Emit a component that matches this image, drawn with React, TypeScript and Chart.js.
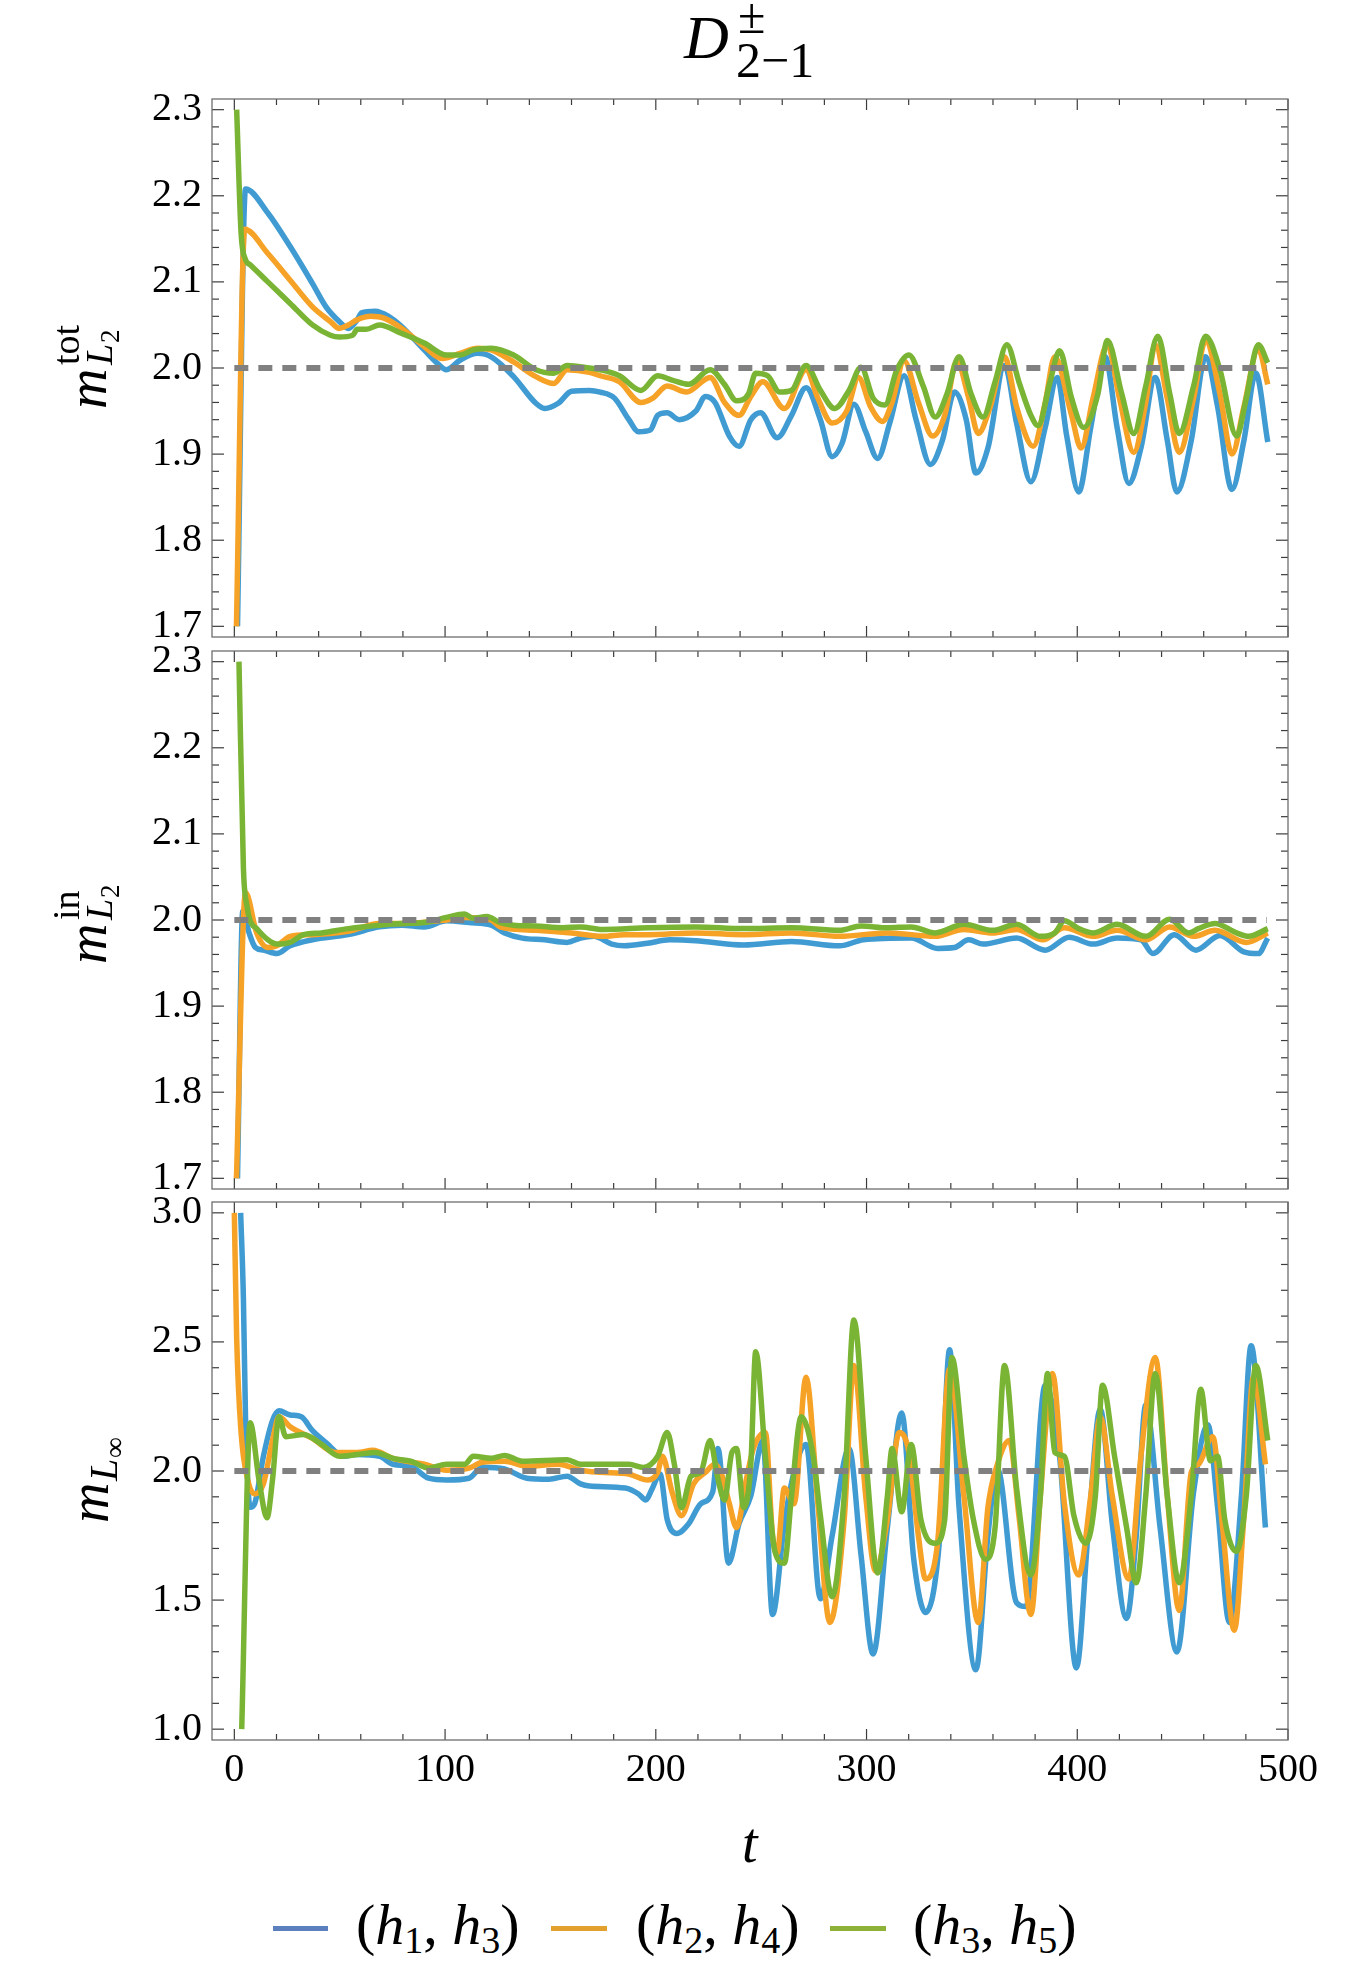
import React, { useEffect, useRef } from 'react';
import { Chart, registerables } from 'chart.js';

Chart.register(...registerables);

const SERIF = "'Liberation Serif', 'DejaVu Serif', 'Noto Serif', serif";

// ---------- Panel 1: m^tot_{L2} ----------
const totBlue = [[1.5,1.70],[5.3,2.208],[15.9,2.180],[26.5,2.141],[37.1,2.098],[43.5,2.071],[49.8,2.054],[54.1,2.046],[58.3,2.056],[60.4,2.064],[66.8,2.066],[73.2,2.060],[79.5,2.048],[90.1,2.021],[96.5,2.005],[100.7,1.998],[107.1,2.009],[115.5,2.017],[121.9,2.013],[132.5,1.990],[143.1,1.959],[147.3,1.953],[153.7,1.959],[160.0,1.973],[168.5,1.974],[173.6,1.972],[180.4,1.965],[187.2,1.940],[191.8,1.926],[197.4,1.928],[200.9,1.945],[205.4,1.948],[211.1,1.940],[219.0,1.950],[223.6,1.967],[228.1,1.960],[234.9,1.921],[239.5,1.909],[245.1,1.940],[249.7,1.948],[257.6,1.919],[264.4,1.945],[271.3,1.977],[278.1,1.940],[283.7,1.897],[288.3,1.912],[294.0,1.958],[299.6,1.926],[305.3,1.895],[311.0,1.936],[317.8,1.991],[323.5,1.940],[330.3,1.888],[336.0,1.916],[341.7,1.972],[347.3,1.940],[351.9,1.878],[357.6,1.907],[365.5,2.003],[371.2,1.936],[378.0,1.868],[384.8,1.931],[390.5,1.989],[395.0,1.921],[400.7,1.856],[406.4,1.931],[413.2,2.013],[418.9,1.931],[424.5,1.866],[430.2,1.907],[437.0,1.989],[442.7,1.916],[447.3,1.856],[454.1,1.916],[460.9,2.013],[466.6,1.955],[473.4,1.859],[479.1,1.916],[484.7,1.994],[490.4,1.914]];
const totOrange = [[1.0,1.70],[4.9,2.161],[15.9,2.133],[26.5,2.102],[37.1,2.071],[45.6,2.054],[49.8,2.046],[54.1,2.050],[58.3,2.056],[64.7,2.060],[71.0,2.058],[79.5,2.046],[90.1,2.025],[98.6,2.011],[107.1,2.017],[115.5,2.023],[121.9,2.021],[132.5,2.007],[143.1,1.990],[151.6,1.982],[157.9,1.998],[168.5,1.995],[173.6,1.991],[182.7,1.984],[192.9,1.960],[198.6,1.965],[205.4,1.979],[214.5,1.972],[225.8,1.989],[232.6,1.960],[239.5,1.945],[245.1,1.967],[250.8,1.984],[261.0,1.953],[271.3,1.998],[276.9,1.965],[283.7,1.936],[290.6,1.950],[296.2,1.989],[301.9,1.955],[307.6,1.938],[312.1,1.960],[317.8,2.008],[324.6,1.960],[331.4,1.921],[337.1,1.945],[342.8,2.008],[348.5,1.965],[353.0,1.924],[358.7,1.955],[365.5,2.013],[371.2,1.955],[379.1,1.909],[384.8,1.960],[389.3,2.013],[397.3,1.945],[401.8,1.907],[407.5,1.965],[414.3,2.027],[420.0,1.965],[426.8,1.902],[432.5,1.960],[437.0,2.027],[442.7,1.965],[448.4,1.902],[455.2,1.965],[460.9,2.032],[467.7,1.970],[473.4,1.900],[479.1,1.955],[485.9,2.022],[490.4,1.981]];
const totGreen = [[1.1,2.300],[3.2,2.157],[5.3,2.126],[7.5,2.120],[15.9,2.100],[26.5,2.075],[37.1,2.050],[45.6,2.038],[49.8,2.036],[56.2,2.038],[58.3,2.045],[62.6,2.045],[68.9,2.050],[79.5,2.040],[90.1,2.029],[100.7,2.015],[107.1,2.015],[113.4,2.021],[121.9,2.023],[132.5,2.015],[143.1,1.998],[151.6,1.994],[157.9,2.003],[168.5,2.000],[173.6,1.998],[182.7,1.991],[192.9,1.974],[200.9,1.991],[207.7,1.986],[215.6,1.981],[225.8,1.998],[232.6,1.981],[238.3,1.962],[244.0,1.970],[247.4,1.994],[253.1,1.991],[258.8,1.972],[264.4,1.974],[271.3,2.003],[278.1,1.974],[284.9,1.953],[291.7,1.974],[297.4,2.001],[303.1,1.965],[308.7,1.957],[314.4,1.998],[320.1,2.015],[326.9,1.979],[332.6,1.943],[338.2,1.970],[343.9,2.013],[349.6,1.970],[355.3,1.943],[361.0,1.984],[366.6,2.027],[372.3,1.984],[378.0,1.945],[381.4,1.933],[387.1,1.984],[391.6,2.020],[397.3,1.965],[403.0,1.931],[409.8,1.970],[414.3,2.032],[421.1,1.970],[426.8,1.924],[432.5,1.979],[438.2,2.037],[443.9,1.970],[448.4,1.924],[455.2,1.979],[460.9,2.037],[467.7,1.998],[475.6,1.921],[480.2,1.965],[485.9,2.027],[490.4,2.006]];

// ---------- Panel 2: m^in_{L2} ----------
const inBlue = [[1.5,1.70],[4.0,2.010],[7.0,1.985],[10.0,1.968],[13.8,1.965],[20.2,1.961],[26.5,1.970],[37.1,1.977],[54.1,1.983],[68.9,1.992],[79.5,1.994],[90.1,1.992],[100.7,1.999],[111.3,1.997],[121.9,1.994],[128.2,1.985],[136.7,1.979],[147.3,1.977],[157.9,1.974],[164.3,1.979],[170.6,1.981],[179.1,1.972],[185.0,1.970],[196.1,1.973],[206.6,1.977],[219.0,1.976],[241.7,1.971],[264.4,1.975],[287.2,1.970],[298.5,1.977],[321.2,1.979],[333.7,1.967],[341.7,1.968],[348.5,1.977],[355.3,1.972],[371.2,1.979],[384.8,1.965],[396.2,1.980],[407.5,1.972],[418.9,1.979],[430.2,1.977],[435.9,1.961],[446.1,1.983],[456.3,1.965],[467.7,1.982],[479.1,1.963],[485.9,1.961],[490.4,1.979]];
const inOrange = [[1.0,1.70],[5.3,2.032],[10.6,1.985],[15.9,1.968],[20.2,1.970],[26.5,1.981],[37.1,1.983],[54.1,1.987],[68.9,1.996],[79.5,1.996],[100.7,2.000],[109.2,2.003],[121.9,2.000],[126.1,1.992],[143.1,1.988],[160.0,1.985],[174.9,1.981],[185.0,1.983],[196.3,1.983],[219.0,1.985],[241.7,1.983],[264.4,1.985],[287.2,1.981],[309.9,1.985],[332.6,1.981],[346.2,1.989],[359.8,1.985],[371.2,1.989],[383.7,1.977],[393.9,1.991],[407.5,1.981],[418.9,1.988],[432.5,1.977],[443.9,1.992],[455.2,1.981],[465.4,1.988],[480.2,1.974],[490.4,1.985]];
const inGreen = [[2.2,2.300],[4.3,2.061],[6.0,2.016],[7.5,1.999],[10.6,1.990],[15.9,1.977],[20.2,1.972],[26.5,1.974],[32.9,1.983],[41.4,1.985],[54.1,1.990],[68.9,1.994],[79.5,1.996],[90.1,1.997],[100.7,2.003],[109.2,2.007],[113.4,2.002],[119.8,2.004],[126.1,1.997],[132.5,1.994],[143.1,1.993],[155.8,1.991],[164.3,1.992],[174.9,1.989],[196.3,1.991],[219.0,1.992],[241.7,1.990],[264.4,1.991],[287.2,1.988],[297.4,1.993],[309.9,1.991],[321.2,1.992],[332.6,1.985],[346.2,1.995],[359.8,1.988],[371.2,1.995],[382.5,1.981],[389.3,1.985],[393.9,1.999],[400.7,1.990],[407.5,1.985],[418.9,1.995],[432.5,1.981],[443.9,2.001],[452.9,1.985],[457.5,1.990],[465.4,1.996],[475.6,1.985],[481.3,1.981],[490.4,1.990]];

// ---------- Panel 3: m_{L_inf} ----------
const linfBlue = [[3.0,3.000],[4.3,2.670],[5.3,2.210],[7.5,1.860],[9.6,1.873],[13.8,2.057],[18.1,2.195],[21.2,2.233],[26.5,2.217],[31.8,2.210],[37.1,2.156],[43.5,2.110],[52.0,2.057],[58.3,2.064],[68.9,2.057],[75.3,2.026],[83.7,2.018],[92.2,1.972],[100.7,1.965],[111.3,1.972],[117.7,2.015],[128.2,2.008],[138.8,1.972],[149.4,1.968],[157.9,1.980],[164.3,1.950],[168.5,1.942],[185.5,1.934],[191.8,1.911],[195.2,1.888],[198.2,1.930],[202.0,1.988],[205.4,1.812],[209.9,1.758],[215.6,1.796],[221.3,1.873],[227.0,1.919],[229.5,2.087],[234.5,1.643],[239.5,1.796],[245.1,1.904],[250.8,2.118],[255.4,1.444],[261.0,1.796],[265.6,1.995],[271.3,2.103],[278.1,1.505],[283.7,1.750],[291.7,2.087],[297.4,1.674],[303.1,1.291],[309.9,1.781],[316.7,2.225],[322.4,1.658],[328.0,1.452],[334.8,1.750],[339.4,2.470],[343.9,1.858],[351.9,1.230],[357.6,1.750],[362.1,2.009],[371.2,1.490],[375.7,1.475],[384.8,2.332],[391.6,2.057],[399.6,1.237],[405.2,1.766],[410.9,2.240],[416.6,1.796],[423.4,1.429],[428.0,1.750],[432.5,2.256],[439.3,1.781],[447.3,1.299],[455.2,1.919],[462.0,2.179],[466.6,1.858],[472.2,1.413],[477.9,1.904],[482.5,2.485],[489.3,1.781]];
const linfOrange = [[0.0,3.000],[1.1,2.516],[3.2,2.150],[6.4,1.965],[9.6,1.911],[13.8,1.950],[18.1,2.118],[21.2,2.210],[26.5,2.171],[37.1,2.126],[47.7,2.072],[58.3,2.072],[65.7,2.080],[75.3,2.049],[90.1,2.026],[100.7,2.003],[111.3,2.011],[117.7,2.034],[128.2,2.038],[138.8,2.018],[153.7,2.026],[164.3,2.003],[173.6,1.995],[187.2,1.988],[196.3,1.965],[200.9,1.995],[203.1,2.057],[207.7,1.919],[212.2,1.827],[217.9,1.950],[223.6,1.995],[228.1,2.026],[231.5,1.980],[234.9,1.873],[238.3,1.781],[242.9,1.965],[246.3,2.087],[252.0,2.149],[255.4,1.750],[257.6,1.681],[261.0,1.934],[265.6,1.873],[271.3,2.363],[276.9,1.873],[282.6,1.413],[289.4,1.812],[294.0,2.409],[299.6,1.904],[304.2,1.613],[309.9,1.812],[315.5,2.149],[320.1,2.072],[324.6,1.750],[328.0,1.582],[333.7,1.720],[339.4,2.394],[346.2,1.904],[353.0,1.413],[357.6,1.858],[362.1,2.026],[367.8,2.118],[372.3,1.827],[378.0,1.444],[382.5,1.904],[388.2,2.378],[393.9,1.873],[400.7,1.597],[406.4,1.904],[410.9,2.210],[416.6,1.904],[424.5,1.582],[430.2,2.057],[437.0,2.440],[442.7,1.904],[448.4,1.460],[454.1,1.995],[457.5,2.026],[464.3,2.133],[468.8,1.796],[474.5,1.383],[479.1,1.827],[483.6,2.363],[489.3,2.026]];
const linfGreen = [[3.5,1.000],[7.5,2.187],[11.7,1.965],[15.5,1.819],[18.1,1.965],[21.2,2.210],[24.4,2.133],[32.9,2.141],[41.4,2.103],[49.8,2.057],[58.3,2.064],[66.8,2.072],[75.3,2.049],[83.7,2.038],[92.2,2.011],[100.7,2.026],[109.2,2.026],[113.4,2.057],[121.9,2.049],[128.2,2.060],[136.7,2.038],[157.9,2.044],[164.3,2.026],[187.2,2.026],[194.0,2.014],[200.9,2.057],[205.4,2.149],[208.8,2.026],[212.2,1.858],[216.7,1.980],[221.3,1.995],[225.8,2.118],[229.2,1.980],[232.6,1.888],[236.1,2.072],[238.3,2.087],[241.7,1.858],[245.1,2.026],[247.4,2.462],[252.0,2.057],[256.5,1.689],[261.0,1.643],[264.4,1.904],[269.0,2.210],[274.7,2.057],[278.1,1.827],[283.7,1.513],[289.4,1.904],[294.0,2.585],[299.6,2.057],[305.3,1.605],[309.9,1.904],[312.1,2.087],[316.7,1.842],[321.2,2.103],[325.8,1.812],[332.6,1.720],[337.1,1.812],[340.5,2.440],[346.2,2.057],[350.7,1.812],[356.4,1.658],[361.0,1.781],[365.5,2.409],[371.2,1.934],[378.0,1.597],[382.5,1.904],[385.9,2.378],[389.3,2.072],[393.9,2.057],[398.4,1.827],[404.1,1.720],[408.6,1.904],[412.0,2.332],[417.7,2.057],[423.4,1.781],[428.0,1.567],[432.5,1.904],[437.0,2.378],[442.7,1.904],[448.4,1.567],[454.1,1.904],[458.6,2.317],[463.2,2.040],[466.6,2.057],[470.0,1.812],[475.6,1.689],[480.2,1.904],[484.7,2.409],[490.4,2.118]];

// reference line m = 2
const refLine = [[0, 2], [490, 2]];

// ticks
const xMajorTicks = [0, 100, 200, 300, 400, 500];
const xMinorTicks = [0, 20, 40, 60, 80, 100, 120, 140, 160, 180, 200, 220, 240, 260, 280, 300, 320, 340, 360, 380, 400, 420, 440, 460, 480, 500];
const l2MajorTicks = [1.7, 1.8, 1.9, 2.0, 2.1, 2.2, 2.3];
const l2MinorTicks = [1.70, 1.72, 1.74, 1.76, 1.78, 1.80, 1.82, 1.84, 1.86, 1.88, 1.90, 1.92, 1.94, 1.96, 1.98, 2.00, 2.02, 2.04, 2.06, 2.08, 2.10, 2.12, 2.14, 2.16, 2.18, 2.20, 2.22, 2.24, 2.26, 2.28, 2.30];
const linfMajorTicks = [1.0, 1.5, 2.0, 2.5, 3.0];
const linfMinorTicks = [1.0, 1.1, 1.2, 1.3, 1.4, 1.5, 1.6, 1.7, 1.8, 1.9, 2.0, 2.1, 2.2, 2.3, 2.4, 2.5, 2.6, 2.7, 2.8, 2.9, 3.0];

const COLORS = { blue: '#3f9bd2', orange: '#f5a226', green: '#7ab434', ref: '#808080' };
const LEGEND_COLORS = ['#5b80bd', '#e2a02c', '#8db237'];

type Pts = number[][];
type PanelProps = {
  top: number; height: number; padTop: number; padBottom: number;
  xAxisHeight: number; showX: boolean;
  yMin: number; yMax: number; yMajor: number[]; yMinor: number[];
  blue: Pts; orange: Pts; green: Pts;
};

function Panel(p: PanelProps) {
  const ref = useRef<HTMLCanvasElement>(null);
  useEffect(() => {
    const canvas = ref.current;
    if (!canvas) return;
    const toPts = (arr: Pts) => arr.map(([x, y]) => ({ x, y }));
    const mkLine = (arr: Pts, color: string, order: number, extra: any = {}) => ({
      data: toPts(arr), borderColor: color, backgroundColor: color, borderWidth: 5.5,
      pointRadius: 0, fill: false, order, cubicInterpolationMode: 'monotone',
      borderJoinStyle: 'round', borderCapStyle: 'butt', ...extra,
    });
    const near = (a: number[], v: number) => a.some((m) => Math.abs(m - v) < 1e-9);
    const framePlugin = {
      id: 'frameTicks',
      beforeDatasetsDraw(chart: any) {
        const { ctx, chartArea: a, scales } = chart;
        const xs = scales.x, ys = scales.y;
        ctx.save();
        ctx.strokeStyle = '#3c3c3c';
        ctx.lineWidth = 1.2;
        const seg = (x1: number, y1: number, x2: number, y2: number) => {
          ctx.beginPath(); ctx.moveTo(x1, y1); ctx.lineTo(x2, y2); ctx.stroke();
        };
        for (const v of xMinorTicks) {
          const px = xs.getPixelForValue(v);
          const len = near(xMajorTicks, v) ? 11 : 6;
          seg(px, a.bottom, px, a.bottom - len);
          seg(px, a.top, px, a.top + len);
        }
        for (const v of p.yMinor) {
          const py = ys.getPixelForValue(v);
          const len = near(p.yMajor, v) ? 12 : 7;
          seg(a.left, py, a.left + len, py);
          seg(a.right, py, a.right - len, py);
        }
        ctx.strokeStyle = '#6e6e6e';
        ctx.lineWidth = 1.3;
        ctx.strokeRect(a.left, a.top, a.right - a.left, a.bottom - a.top);
        ctx.restore();
      },
    };
    const font = { family: SERIF, size: 40 };
    const chart = new Chart(canvas, {
      type: 'line',
      data: {
        datasets: [
          mkLine(refLine, COLORS.ref, 0, { borderDash: [14, 10], borderWidth: 6, cubicInterpolationMode: 'default' }),
          mkLine(p.green, COLORS.green, 1),
          mkLine(p.orange, COLORS.orange, 2),
          mkLine(p.blue, COLORS.blue, 3),
        ],
      },
      options: {
        animation: false,
        responsive: false,
        maintainAspectRatio: false,
        events: [],
        layout: { padding: { left: 0, right: 62, top: p.padTop, bottom: p.padBottom } },
        plugins: { legend: { display: false }, tooltip: { enabled: false }, title: { display: false } },
        scales: {
          x: {
            type: 'linear', min: -10.6, max: 500,
            grid: { display: false, drawTicks: false },
            border: { display: false },
            ticks: {
              display: p.showX, font, color: '#000', padding: 6, autoSkip: false, maxRotation: 0,
              callback: (v: any) => String(Math.round(Number(v))),
            },
            afterBuildTicks: (s: any) => { s.ticks = xMajorTicks.map((value) => ({ value })); },
            afterFit: (s: any) => { s.height = p.xAxisHeight; },
          },
          y: {
            type: 'linear', min: p.yMin, max: p.yMax,
            grid: { display: false, drawTicks: false },
            border: { display: false },
            ticks: {
              font, color: '#000', padding: 10, autoSkip: false,
              callback: (v: any) => Number(v).toFixed(1),
            },
            afterBuildTicks: (s: any) => { s.ticks = p.yMajor.map((value) => ({ value })); },
            afterFit: (s: any) => { s.width = 212; },
          },
        },
      } as any,
      plugins: [framePlugin],
    } as any);
    return () => chart.destroy();
  }, []);
  return (
    <canvas
      ref={ref}
      width={1350}
      height={p.height}
      style={{ position: 'absolute', left: 0, top: p.top, width: 1350, height: p.height }}
    />
  );
}

const T = ({ x, b, size, italic, children, style }: any) => (
  <span
    style={{
      position: 'absolute', left: x, top: b - 0.8375 * size, fontSize: size, lineHeight: 1,
      fontStyle: italic ? 'italic' : 'normal', fontFamily: SERIF, whiteSpace: 'nowrap', color: '#000',
      ...style,
    }}
  >
    {children}
  </span>
);

const Rot = ({ px, py, children }: any) => (
  <div style={{ position: 'absolute', left: px, top: py, width: 0, height: 0, transform: 'rotate(-90deg)', transformOrigin: '0 0' }}>
    {children}
  </div>
);

const subStyle: any = { fontSize: 38, verticalAlign: '-9px', lineHeight: 0, fontStyle: 'normal' };

const LegendText = ({ x, a, b }: any) => (
  <T x={x} b={1945} size={58}>
    (<i>h</i><span style={subStyle}>{a}</span>, <i>h</i><span style={subStyle}>{b}</span>)
  </T>
);

export default function App() {
  return (
    <div style={{ position: 'absolute', left: 0, top: 0, width: 1350, height: 1979, background: '#fff', overflow: 'hidden', fontFamily: SERIF }}>
      <Panel top={0} height={690} padTop={99} padBottom={53} xAxisHeight={0} showX={false}
        yMin={1.6876} yMax={2.3124} yMajor={l2MajorTicks} yMinor={l2MinorTicks}
        blue={totBlue} orange={totOrange} green={totGreen} />
      <Panel top={600} height={640} padTop={51} padBottom={51} xAxisHeight={0} showX={false}
        yMin={1.6876} yMax={2.3124} yMajor={l2MajorTicks} yMinor={l2MinorTicks}
        blue={inBlue} orange={inOrange} green={inGreen} />
      <Panel top={1150} height={680} padTop={52} padBottom={0} xAxisHeight={90} showX={true}
        yMin={0.958} yMax={3.042} yMajor={linfMajorTicks} yMinor={linfMinorTicks}
        blue={linfBlue} orange={linfOrange} green={linfGreen} />

      {/* title */}
      <T x={684} b={58} size={62} italic>D</T>
      <T x={738} b={33} size={50}>±</T>
      <T x={736} b={77} size={50}>2−1</T>

      {/* y labels */}
      <Rot px={106} py={409}>
        <T x={0} b={0} size={56} italic>m</T>
        <T x={44} b={-27} size={38}>tot</T>
        <T x={44} b={6} size={38} italic>L</T>
        <T x={66} b={14} size={27}>2</T>
      </Rot>
      <Rot px={106} py={964}>
        <T x={0} b={0} size={56} italic>m</T>
        <T x={44} b={-27} size={38}>in</T>
        <T x={44} b={6} size={38} italic>L</T>
        <T x={66} b={14} size={27}>2</T>
      </Rot>
      <Rot px={108} py={1523}>
        <T x={0} b={0} size={56} italic>m</T>
        <T x={42} b={9} size={40} italic>L</T>
        <T x={65} b={16} size={29}>∞</T>
      </Rot>

      {/* x label */}
      <T x={742} b={1862} size={56} italic>t</T>

      {/* legend */}
      <div style={{ position: 'absolute', left: 273, top: 1926, width: 55, height: 5, background: LEGEND_COLORS[0] }} />
      <div style={{ position: 'absolute', left: 551, top: 1926, width: 56, height: 5, background: LEGEND_COLORS[1] }} />
      <div style={{ position: 'absolute', left: 830, top: 1926, width: 56, height: 5, background: LEGEND_COLORS[2] }} />
      <LegendText x={356} a="1" b="3" />
      <LegendText x={636} a="2" b="4" />
      <LegendText x={913} a="3" b="5" />
    </div>
  );
}
